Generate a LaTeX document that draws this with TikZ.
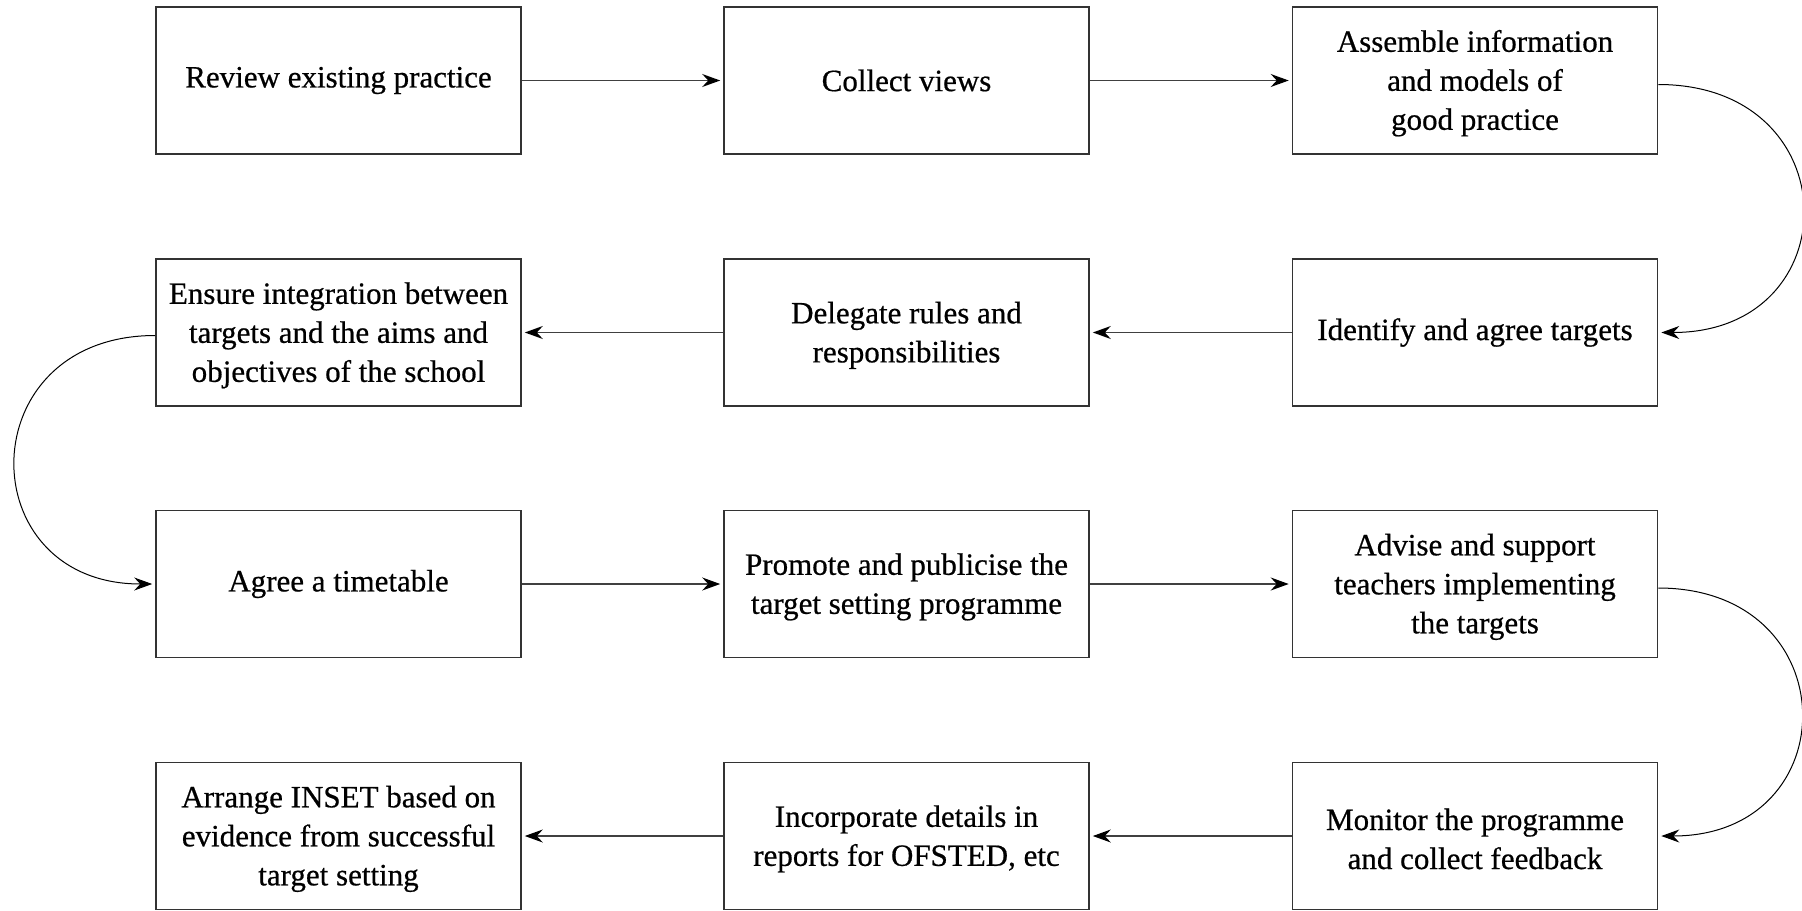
\documentclass[tikz,border=0pt]{standalone}
\usepackage{fontspec}
\setmainfont{Liberation Serif}
\newfontfamily\boxfont[FakeBold=0.6]{Liberation Serif}
\usetikzlibrary{arrows.meta}
\begin{document}
\begin{tikzpicture}[x=0.5pt,y=-0.5pt,
  box/.style={draw=black!80,line width=0.8pt,minimum width=182.5pt,minimum height=73.5pt,
    inner sep=0pt,align=center,font=\boxfont\fontsize{15.5}{19.5}\selectfont},
  conn/.style={draw=black!75,line width=0.7pt,-{Stealth[length=9pt,width=6.5pt,inset=3pt,black]},shorten >=1.5pt},
  curve/.style={draw=black,line width=0.5pt,-{Stealth[length=9pt,width=6.5pt,inset=3pt,black]},shorten >=1.5pt}]
\useasboundingbox (0,0) rectangle (1802,910);
% row 1
\node[box] (a1) at (338.5,80.5) {Review existing practice};
\node[box] (a2) at (906.5,80.5) {Collect views};
\node[box] (a3) at (1475,80.5) {\strut Assemble information\\and models of\\good practice};
% row 2
\node[box] (b1) at (338.5,332.5) {\strut Ensure integration between\\targets and the aims and\\objectives of the school};
\node[box] (b2) at (906.5,332.5) {\strut Delegate rules and\\responsibilities};
\node[box] (b3) at (1475,332.5) {Identify and agree targets};
% row 3
\node[box] (c1) at (338.5,584) {Agree a timetable};
\node[box] (c2) at (906.5,584) {\strut Promote and publicise the\\target setting programme};
\node[box] (c3) at (1475,584) {\strut Advise and support\\teachers implementing\\the targets};
% row 4
\node[box] (d1) at (338.5,836) {\strut Arrange INSET based on\\evidence from successful\\target setting};
\node[box] (d2) at (906.5,836) {\strut Incorporate details in\\reports for OFSTED, etc};
\node[box] (d3) at (1475,836) {\strut Monitor the programme\\and collect feedback};
% straight connectors
\draw[conn] (a1) -- (a2);
\draw[conn] (a2) -- (a3);
\draw[conn] (b3) -- (b2);
\draw[conn] (b2) -- (b1);
\draw[conn] (c1) -- (c2);
\draw[conn] (c2) -- (c3);
\draw[conn] (d3) -- (d2);
\draw[conn] (d2) -- (d1);
% curved connectors
\draw[curve] ([yshift=-2pt]a3.east) .. controls +(192,0) and +(192,0) .. (b3.east);
\draw[curve] ([yshift=-1.5pt]b1.west) .. controls +(-186,0) and +(-186,0) .. (c1.west);
\draw[curve] ([yshift=-2pt]c3.east) .. controls +(190,0) and +(190,0) .. (d3.east);
\end{tikzpicture}
\end{document}
